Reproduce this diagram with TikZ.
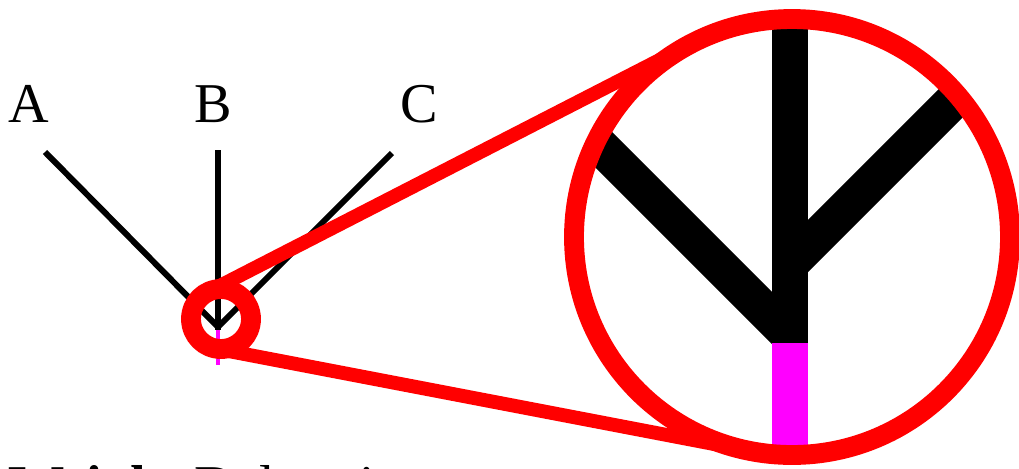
\documentclass[tikz,border=0pt]{standalone}
\usepackage{fontspec}
\setmainfont{Liberation Serif}
\usetikzlibrary{calc}
\definecolor{stempink}{RGB}{255,0,255}

\begin{document}
\begin{tikzpicture}[
x=0.02cm, y=-0.02cm,
leaf/.style={font=\fontsize{32}{38}\selectfont, anchor=base, inner sep=0pt},
branch/.style={line width=3.4pt},
root/.style={stempink, line width=2.8pt},
bigbranch/.style={line width=21pt},
bigroot/.style={stempink, line width=21pt},
lens/.style={red, line width=11.3pt},
ray/.style={red, line width=7.9pt} ]

\useasboundingbox (0,0) rectangle (1019,468);

\node[leaf] (A) at (29,122) {A};

\node[leaf] (B) at (213.5,122) {B};

\node[leaf] (C) at (419.5,122) {C};

\node[leaf, anchor=base west] (cap) at (8,504) {\textbf{Weight} Deleterious};

% small tree
\coordinate (a) at (45,152);
\coordinate (b) at (218,150);
\coordinate (c) at (392,153);
\coordinate (j) at (218,327);
\coordinate (r) at (218,365);

\draw[branch] (a) -- (j);
\draw[branch] (c) -- (j);
\draw[branch] (b) -- ($(j)+(0,3)$);
\draw[root] ($(j)+(0,3)$) -- (r);

% magnified view
\coordinate (m) at (792,237);
\coordinate (s) at (221,319);

\begin{scope}
\clip (m) circle (218);
\coordinate (jb) at (790,343);
\draw[bigbranch] (790,0) -- (jb);
\draw[bigbranch] (790,336) -- (560,106);
\draw[bigbranch] (790,264) -- (1000,54);
\draw[bigroot] (jb) -- (790,470);
\end{scope}

% lens and rays
\coordinate (t1) at (207.3,292.3);
\coordinate (t2) at (692.4,43.1);
\coordinate (t3) at (215.4,348.5);
\coordinate (t4) at (751.0,451.1);

\draw[ray] (t1) -- (t2);
\draw[ray] (t3) -- (t4);
\draw[lens] (s) circle (30);
\draw[lens] (m) circle (218);

\end{tikzpicture}
\end{document}
